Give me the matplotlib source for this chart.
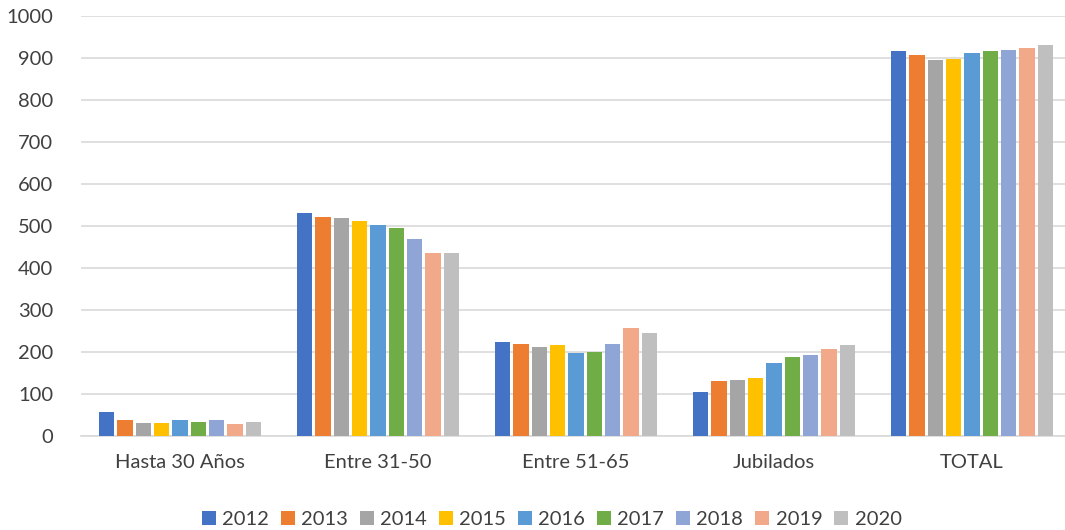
import numpy as np
import matplotlib
matplotlib.use("Agg")
import matplotlib.pyplot as plt

plt.rcParams['font.family'] = ['Lato', 'DejaVu Sans']

categories = ['Hasta 30 Años', 'Entre 31-50', 'Entre 51-65', 'Jubilados', 'TOTAL']
years = ['2012', '2013', '2014', '2015', '2016', '2017', '2018', '2019', '2020']
values = {
    '2012': [58, 530, 224, 104, 917],
    '2013': [37, 522, 218, 130, 907],
    '2014': [30, 520, 212, 133, 896],
    '2015': [30, 513, 216, 137, 898],
    '2016': [39, 502, 198, 173, 911],
    '2017': [34, 496, 200, 187, 917],
    '2018': [39, 470, 218, 193, 918],
    '2019': [29, 435, 257, 206, 925],
    '2020': [33, 435, 245, 216, 930],
}
colors = ['#4472C4', '#ED7D31', '#A5A5A5', '#FFC000', '#5B9BD5',
          '#70AD47', '#8FA5D6', '#F1A98A', '#BFBFBF']

W, H = 1065, 530
fig = plt.figure(figsize=(W / 100, H / 100), dpi=100)
ax = fig.add_axes([81 / W, (H - 436) / H, 990 / W, 420 / H])

x = np.arange(len(categories))
slot = 0.0926
bw = 0.078
for i, y in enumerate(years):
    off = (i - 4) * slot
    ax.bar(x + off, values[y], width=bw, color=colors[i], label=y, zorder=3)

ax.set_xlim(-0.5, len(categories) - 0.5)
ax.set_ylim(0, 1000)
ax.set_yticks(range(0, 1001, 100))
ax.set_xticks(x)
ax.set_xticklabels(categories)
ax.tick_params(length=0, labelsize=14.5, colors='#404040')
ax.tick_params(axis='x', pad=13)
ax.tick_params(axis='y', pad=20)
ax.grid(axis='y', color='#D9D9D9', lw=1.2, zorder=0)
for s in ['top', 'right', 'left']:
    ax.spines[s].set_visible(False)
ax.spines['bottom'].set_color('#D9D9D9')
ax.spines['bottom'].set_linewidth(1.2)

fig.legend(loc='lower center', bbox_to_anchor=(0.518, -0.03), ncol=9,
           frameon=False, fontsize=14.5, handlelength=0.7, handleheight=0.7,
           handletextpad=0.3, columnspacing=0.6, labelcolor='#404040')

fig.savefig('out.png', dpi=100)
